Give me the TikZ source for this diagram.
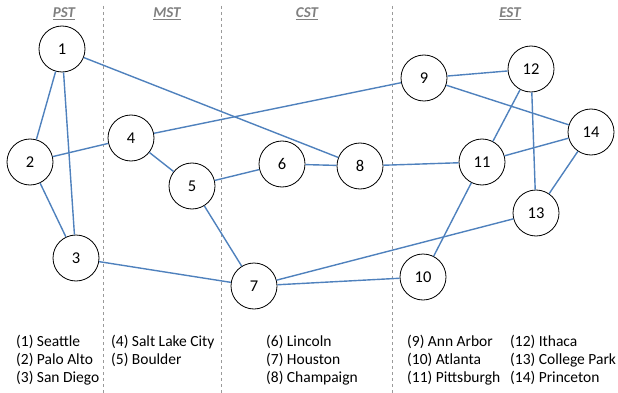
\documentclass[tikz,border=0pt]{standalone}
\usepackage{fontspec}
\setmainfont{Carlito}
\usepackage[dvipsnames]{xcolor}
\definecolor{linkblue}{RGB}{79,129,189}
\definecolor{zonegray}{RGB}{128,128,128}

\begin{document}
\begin{tikzpicture}[x=1pt,y=-1pt,main node/.style={circle,draw,fill=white,line width=0.8pt,minimum size=46pt,inner sep=0pt,font=\fontsize{16.5}{18}\selectfont},zone/.style={text=zonegray,font=\fontsize{15}{17}\selectfont\bfseries\itshape},legend/.style={anchor=north west,inner sep=0pt,align=left,font=\fontsize{15.5}{18}\selectfont}]
            \useasboundingbox (0,0) rectangle (618,393);

            % time zones
            \draw[zonegray!80,dashed,line width=0.6pt] (103,6) -- (103,393);
            \draw[zonegray!80,dashed,line width=0.6pt] (221,6) -- (221,393);
            \draw[zonegray!80,dashed,line width=0.6pt] (392,6) -- (392,393);
            \node[zone] (pst) at (64,14) {\underline{PST}};
            \node[zone] (mst) at (167,14) {\underline{MST}};
            \node[zone] (cst) at (307,14) {\underline{CST}};
            \node[zone] (est) at (510,14) {\underline{EST}};

            \node[main node] (1) at (62,49) {1};
            \node[main node] (2) at (30,162) {2};
            \node[main node] (3) at (76,258) {3};
            \node[main node] (4) at (131,138) {4};
            \node[main node] (5) at (192,186) {5};
            \node[main node] (6) at (282,164) {6};
            \node[main node] (7) at (254,286) {7};
            \node[main node] (8) at (360,166) {8};
            \node[main node] (9) at (424,78) {9};
            \node[main node] (10) at (423,277) {10};
            \node[main node] (11) at (482,162) {11};
            \node[main node] (12) at (531,69) {12};
            \node[main node] (13) at (536,213) {13};
            \node[main node] (14) at (591,132) {14};

            \path[draw=linkblue,line width=1.4pt]
            (1) edge (2)
            (1) edge (3)
            (1) edge (8)
            (2) edge (3)
            (2) edge (4)
            (3) edge (7)
            (4) edge (5)
            (4) edge (9)
            (5) edge (6)
            (5) edge (7)
            (6) edge (8)
            (8) edge (11)
            (7) edge (10)
            (7) edge (13)
            (10) edge (11)
            (11) edge (12)
            (11) edge (14)
            (9) edge (12)
            (9) edge (14)
            (12) edge (13)
            (13) edge (14)
            ;

            % legend
            \node[legend] (pstcities) at (16,335) {(1) Seattle\\(2) Palo Alto\\(3) San Diego};
            \node[legend] (mstcities) at (111,335) {(4) Salt Lake City\\(5) Boulder};
            \node[legend] (cstcities) at (266,335) {(6) Lincoln\\(7) Houston\\(8) Champaign};
            \node[legend] (estcities) at (407,335) {(9) Ann Arbor\\(10) Atlanta\\(11) Pittsburgh};
            \node[legend] (estmore) at (510,335) {(12) Ithaca\\(13) College Park\\(14) Princeton};
        \end{tikzpicture}
\end{document}
